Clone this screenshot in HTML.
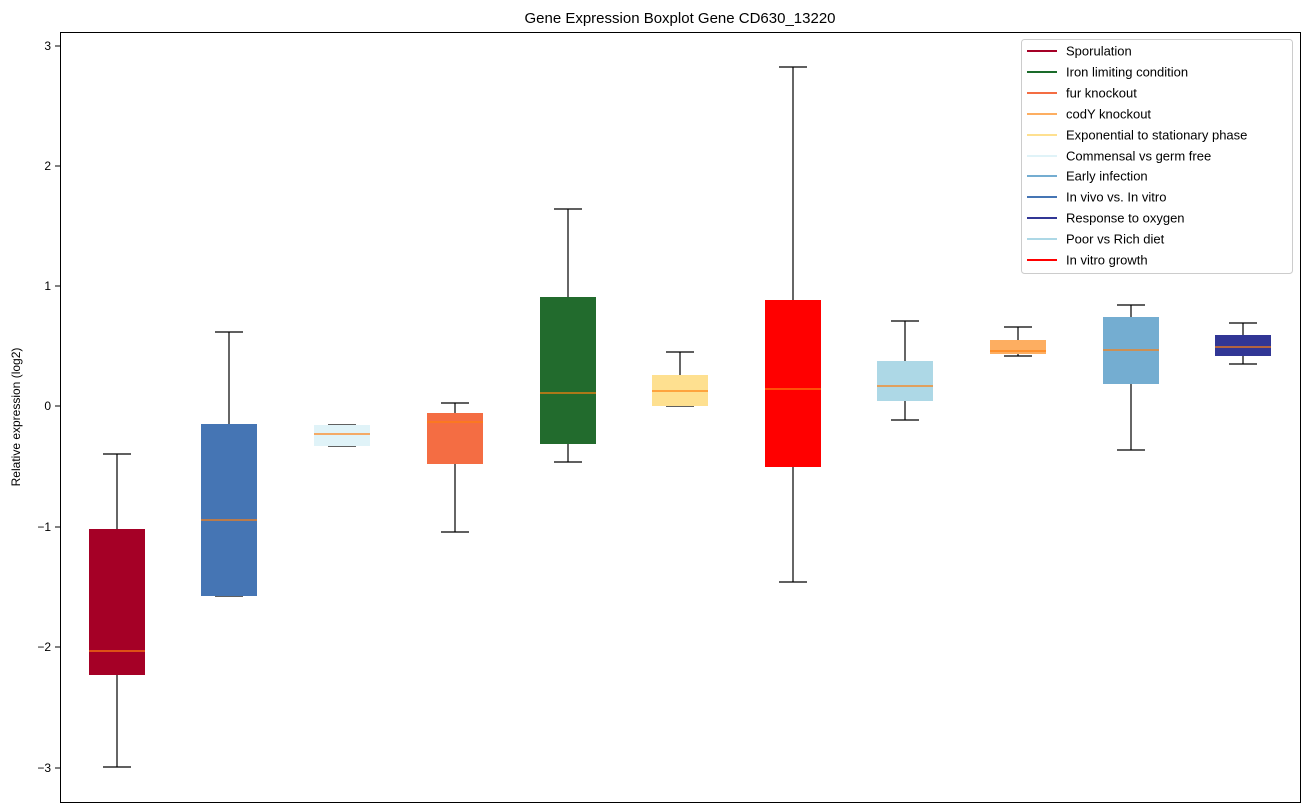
<!DOCTYPE html>
<html><head><meta charset="utf-8"><style>body{margin:0;background:#fff}svg{display:block;font-family:"Liberation Sans","DejaVu Sans",sans-serif}</style></head>
<body>
<svg width="1309" height="812" xmlns="http://www.w3.org/2000/svg">
<rect width="1309" height="812" fill="#fff"/>
<text x="680" y="23" font-size="15" text-anchor="middle">Gene Expression Boxplot Gene CD630_13220</text>
<g font-size="12" text-anchor="end" fill="#000" stroke-width="1">
<line x1="55" x2="60" y1="46" y2="46" stroke="#000"/><text x="51" y="50">3</text>
<line x1="55" x2="60" y1="166" y2="166" stroke="#000"/><text x="51" y="170">2</text>
<line x1="55" x2="60" y1="286" y2="286" stroke="#000"/><text x="51" y="290">1</text>
<line x1="55" x2="60" y1="406" y2="406" stroke="#000"/><text x="51" y="410">0</text>
<line x1="55" x2="60" y1="527" y2="527" stroke="#000"/><text x="51" y="531">−1</text>
<line x1="55" x2="60" y1="647" y2="647" stroke="#000"/><text x="51" y="651">−2</text>
<line x1="55" x2="60" y1="768" y2="768" stroke="#000"/><text x="51" y="772">−3</text>
</g>
<text transform="translate(20,417) rotate(-90)" font-size="12" text-anchor="middle">Relative expression (log2)</text>

<g stroke="#000" stroke-width="1.2">
<!-- whiskers: x, top, q3 ; q1, bottom ; caps -->
<path d="M117 454V529M117 675V767M103 454H131M103 767H131"/>
<path d="M229 332V424M215 332H243M215 596H243"/>
<path d="M328 425H356M328 446H356"/>
<path d="M455 403V413M455 464V532M441 403H469M441 532H469"/>
<path d="M568 209V297M568 444V462M554 209H582M554 462H582"/>
<path d="M680 352V375M666 352H694M666 406H694"/>
<path d="M793 67V300M793 467V582M779 67H807M779 582H807"/>
<path d="M905 321V361M905 401V420M891 321H919M891 420H919"/>
<path d="M1018 327V340M1018 354V356M1004 327H1032M1004 356H1032"/>
<path d="M1131 305V317M1131 384V450M1117 305H1145M1117 450H1145"/>
<path d="M1243 323V335M1243 356V364M1229 323H1257M1229 364H1257"/>
</g>
<g>
<rect x="89" y="529" width="56" height="146" fill="#a50026"/>
<rect x="201" y="424" width="56" height="172" fill="#4575b4"/>
<rect x="314" y="425" width="56" height="21" fill="#e0f3f8"/>
<rect x="427" y="413" width="56" height="51" fill="#f46d43"/>
<rect x="540" y="297" width="56" height="147" fill="#226b2d"/>
<rect x="652" y="375" width="56" height="31" fill="#fee090"/>
<rect x="765" y="300" width="56" height="167" fill="#ff0000"/>
<rect x="877" y="361" width="56" height="40" fill="#add8e6"/>
<rect x="990" y="340" width="56" height="14" fill="#fdae61"/>
<rect x="1103" y="317" width="56" height="67" fill="#74add1"/>
<rect x="1215" y="335" width="56" height="21" fill="#313695"/>
</g>
<g stroke="#ff7f0e" stroke-width="1.2">
<path d="M89 651H145M201 520H257M314 434H370M427 422H483M540 393H596M652 391H708M765 389H821M877 386H933M990 351H1046M1103 350H1159M1215 347H1271"/>
</g>
<rect x="60.5" y="32.5" width="1240" height="770" fill="none" stroke="#000"/>
<rect x="1021.5" y="39.5" width="271" height="234" rx="3" fill="#fff" fill-opacity="0.85" stroke="#ccc"/>
<g font-size="13" stroke-width="2">
<line x1="1027" x2="1057" y1="51" y2="51" stroke="#a50026"/><text x="1066" y="55.5">Sporulation</text>
<line x1="1027" x2="1057" y1="72" y2="72" stroke="#1a6b2a"/><text x="1066" y="76.5">Iron limiting condition</text>
<line x1="1027" x2="1057" y1="93" y2="93" stroke="#f46d43"/><text x="1066" y="97.5">fur knockout</text>
<line x1="1027" x2="1057" y1="114" y2="114" stroke="#fdae61"/><text x="1066" y="118.5">codY knockout</text>
<line x1="1027" x2="1057" y1="135" y2="135" stroke="#fee090"/><text x="1066" y="139.5">Exponential to stationary phase</text>
<line x1="1027" x2="1057" y1="156" y2="156" stroke="#e0f3f8"/><text x="1066" y="160.5">Commensal vs germ free</text>
<line x1="1027" x2="1057" y1="176" y2="176" stroke="#74add1"/><text x="1066" y="180.5">Early infection</text>
<line x1="1027" x2="1057" y1="197" y2="197" stroke="#4575b4"/><text x="1066" y="201.5">In vivo vs. In vitro</text>
<line x1="1027" x2="1057" y1="218" y2="218" stroke="#313695"/><text x="1066" y="222.5">Response to oxygen</text>
<line x1="1027" x2="1057" y1="239" y2="239" stroke="#add8e6"/><text x="1066" y="243.5">Poor vs Rich diet</text>
<line x1="1027" x2="1057" y1="260" y2="260" stroke="#ff0000"/><text x="1066" y="264.5">In vitro growth</text>
</g>
</svg>
</body></html>
